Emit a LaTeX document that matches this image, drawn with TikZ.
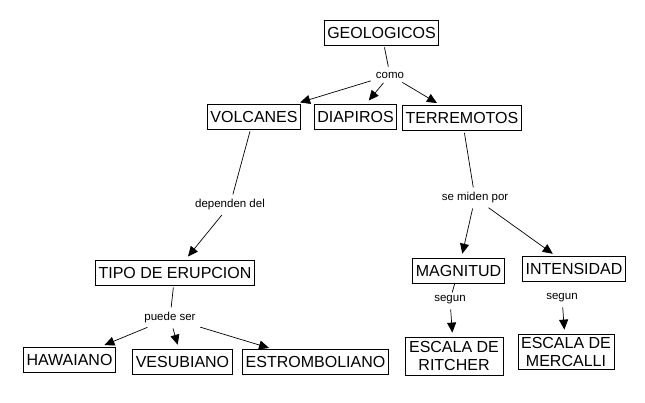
\documentclass[tikz,border=0pt]{standalone}
\usepackage{fontspec}
\setmainfont{Liberation Sans}
\usetikzlibrary{arrows.meta}
\begin{document}
\begin{tikzpicture}[x=1pt,y=-1pt,
  concept/.style={draw, line width=0.8pt, inner xsep=3pt, inner ysep=2pt,
    minimum height=25pt, font=\fontsize{16}{18}\selectfont, align=center},
  link/.style={font=\fontsize{11.5}{13}\selectfont, inner sep=3pt},
  conn/.style={line width=0.7pt, shorten <=2pt, shorten >=2pt},
  arr/.style={conn, -{Triangle[length=10pt,width=9pt]}, shorten >=4pt}]
\useasboundingbox (0,0) rectangle (645,402);
\fill[white] (0,0) rectangle (645,402);
\node[concept] (geo) at (381.5,32.5) {GEOLOGICOS};
\node[link] (como) at (390,75) {como};
\node[concept] (volc) at (254,116.5) {VOLCANES};
\node[concept] (diap) at (355.5,116.5) {DIAPIROS};
\node[concept] (terr) at (462,118) {TERREMOTOS};
\node[link] (dep) at (230,205) {dependen del};
\node[concept] (tipo) at (175,272.5) {TIPO DE ERUPCION};
\node[link] (puede) at (170,318) {puede ser};
\node[concept] (haw) at (69.5,359.5) {HAWAIANO};
\node[concept] (ves) at (182.5,361.5) {VESUBIANO};
\node[concept] (est) at (315.5,362) {ESTROMBOLIANO};
\node[link] (mide) at (475,198) {se miden por};
\node[concept] (mag) at (458.5,270.5) {MAGNITUD};
\node[concept] (int) at (574,269) {INTENSIDAD};
\node[link] (seg1) at (450,300) {segun};
\node[link] (seg2) at (562,298) {segun};
\node[concept, minimum height=38pt, minimum width=98pt] (ric) at (454,356) {ESCALA DE\\RITCHER};
\node[concept, minimum height=35pt, minimum width=94pt] (mer) at (566,351.5) {ESCALA DE\\MERCALLI};
\draw[conn] (geo) -- (como);
\draw[arr] (como) -- (volc);
\draw[arr] (como) -- (diap);
\draw[arr] (como) -- (terr);
\draw[conn] (volc) -- (dep);
\draw[arr] (dep) -- (tipo);
\draw[conn] (tipo) -- (puede);
\draw[arr] (puede) -- (haw);
\draw[arr] (puede) -- (ves);
\draw[arr] (puede) -- (est);
\draw[conn] (terr) -- (mide);
\draw[arr] (mide) -- (mag);
\draw[arr] (mide) -- (int);
\draw[line width=0.7pt] (mag) -- (seg1);
\draw[arr] (seg1) -- (ric);
\draw[arr] (seg2) -- (mer);
\end{tikzpicture}
\end{document}
